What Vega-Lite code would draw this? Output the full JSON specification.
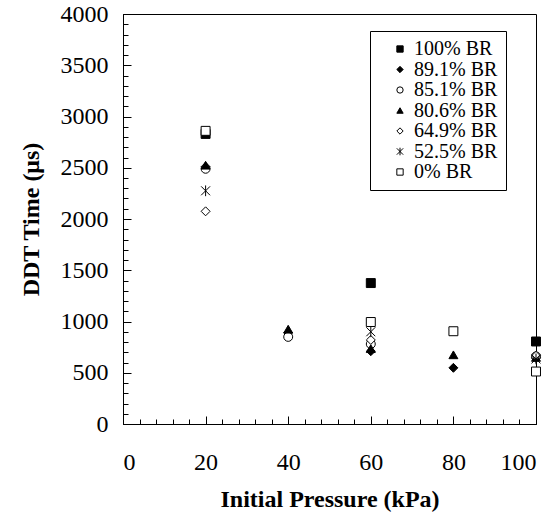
{
  "$schema": "https://vega.github.io/schema/vega-lite/v6.json",
  "width": 413,
  "height": 410,
  "autosize": {"type": "none"},
  "padding": {"left": 123, "top": 14, "right": 19, "bottom": 98},
  "background": "white",
  "config": {
    "view": {"stroke": "black", "strokeWidth": 1},
    "font": "Liberation Serif",
    "axis": {"domainColor": "black", "tickColor": "black", "labelColor": "black", "titleColor": "black", "grid": false, "labelFont": "Liberation Serif", "titleFont": "Liberation Serif", "tickWidth": 1, "domainWidth": 1},
    "legend": {"orient": "none", "legendX": 247, "legendY": 17, "title": null, "strokeColor": "black", "fillColor": "white", "padding": 8, "labelFontSize": 20, "labelFont": "Liberation Serif", "labelColor": "black", "symbolSize": 40, "symbolStrokeWidth": 1, "rowPadding": 0.5, "symbolOffset": 12, "labelOffset": 4}
  },
  "data": {"values": [
    {"p": 20, "t": 2830, "s": "100% BR"},
    {"p": 60, "t": 1375, "s": "100% BR"},
    {"p": 100, "t": 805, "s": "100% BR"},
    {"p": 20, "t": 2510, "s": "89.1% BR"},
    {"p": 40, "t": 890, "s": "89.1% BR"},
    {"p": 60, "t": 710, "s": "89.1% BR"},
    {"p": 80, "t": 548, "s": "89.1% BR"},
    {"p": 100, "t": 645, "s": "89.1% BR"},
    {"p": 20, "t": 2490, "s": "85.1% BR"},
    {"p": 40, "t": 850, "s": "85.1% BR"},
    {"p": 60, "t": 780, "s": "85.1% BR"},
    {"p": 100, "t": 660, "s": "85.1% BR"},
    {"p": 20, "t": 2525, "s": "80.6% BR"},
    {"p": 40, "t": 925, "s": "80.6% BR"},
    {"p": 60, "t": 735, "s": "80.6% BR"},
    {"p": 80, "t": 675, "s": "80.6% BR"},
    {"p": 100, "t": 650, "s": "80.6% BR"},
    {"p": 20, "t": 2075, "s": "64.9% BR"},
    {"p": 60, "t": 820, "s": "64.9% BR"},
    {"p": 100, "t": 665, "s": "64.9% BR"},
    {"p": 20, "t": 2275, "s": "52.5% BR"},
    {"p": 60, "t": 900, "s": "52.5% BR"},
    {"p": 100, "t": 635, "s": "52.5% BR"},
    {"p": 20, "t": 2860, "s": "0% BR"},
    {"p": 60, "t": 995, "s": "0% BR"},
    {"p": 80, "t": 905, "s": "0% BR"},
    {"p": 100, "t": 512, "s": "0% BR"}
  ]},
  "layer": [
    {
      "mark": {"type": "point", "opacity": 0},
      "encoding": {
        "x": {"field": "p", "type": "quantitative", "scale": {"domain": [0, 100], "nice": false},
          "axis": {"orient": "bottom", "values": [0,4,8,12,16,20,24,28,32,36,40,44,48,52,56,60,64,68,72,76,80,84,88,92,96,100], "labels": false, "domain": false, "tickSize": -5, "title": null}},
        "y": {"field": "t", "type": "quantitative", "scale": {"domain": [0, 4000], "nice": false},
          "axis": {"orient": "left", "values": [0,100,200,300,400,500,600,700,800,900,1000,1100,1200,1300,1400,1500,1600,1700,1800,1900,2000,2100,2200,2300,2400,2500,2600,2700,2800,2900,3000,3100,3200,3300,3400,3500,3600,3700,3800,3900,4000], "labels": false, "domain": false, "tickSize": -5, "title": null}}
      }
    },
    {
      "mark": {"type": "point", "opacity": 0},
      "encoding": {
        "x": {"field": "p", "type": "quantitative", "scale": {"domain": [0, 100], "nice": false},
          "axis": {"orient": "bottom", "values": [0,20,40,60,80,100], "labels": false, "domain": false, "tickSize": -8, "title": null}},
        "y": {"field": "t", "type": "quantitative", "scale": {"domain": [0, 4000], "nice": false},
          "axis": {"orient": "left", "values": [0,500,1000,1500,2000,2500,3000,3500,4000], "labels": false, "domain": false, "tickSize": -8, "title": null}}
      }
    },
    {
      "mark": {"type": "point", "filled": true, "size": 80, "strokeWidth": 1, "opacity": 1},
      "encoding": {
        "x": {"field": "p", "type": "quantitative", "scale": {"domain": [0, 100], "nice": false},
          "axis": {"orient": "bottom", "values": [0,20,40,60,80,100], "format": "d", "ticks": false, "labelFont": "Liberation Serif", "labelFontSize": 24, "labelPadding": 26, "title": "Initial Pressure (kPa)", "titleFont": "Liberation Serif", "titleFontSize": 24, "titleFontWeight": "bold", "titlePadding": 13}},
        "y": {"field": "t", "type": "quantitative", "scale": {"domain": [0, 4000], "nice": false},
          "axis": {"orient": "left", "values": [0,500,1000,1500,2000,2500,3000,3500,4000], "format": "d", "ticks": false, "labelFont": "Liberation Serif", "labelFontSize": 24, "labelPadding": 15, "title": "DDT Time (μs)", "titleFont": "Liberation Serif", "titleFontSize": 24, "titleFontWeight": "bold", "titlePadding": 17}},
        "shape": {"field": "s", "type": "nominal",
          "scale": {"domain": ["100% BR", "89.1% BR", "85.1% BR", "80.6% BR", "64.9% BR", "52.5% BR", "0% BR"],
                    "range": ["square", "diamond", "circle", "triangle-up", "diamond", "M-1,-1L1,1M-1,1L1,-1M0,-1.2L0,1.2", "square"]}},
        "fill": {"field": "s", "type": "nominal",
          "scale": {"domain": ["100% BR", "89.1% BR", "85.1% BR", "80.6% BR", "64.9% BR", "52.5% BR", "0% BR"],
                    "range": ["black", "black", "white", "black", "white", "white", "white"]}},
        "stroke": {"field": "s", "type": "nominal",
          "scale": {"domain": ["100% BR", "89.1% BR", "85.1% BR", "80.6% BR", "64.9% BR", "52.5% BR", "0% BR"],
                    "range": ["black", "black", "black", "black", "black", "black", "black"]}}
      }
    }
  ],
  "resolve": {"axis": {"x": "independent", "y": "independent"}}
}
